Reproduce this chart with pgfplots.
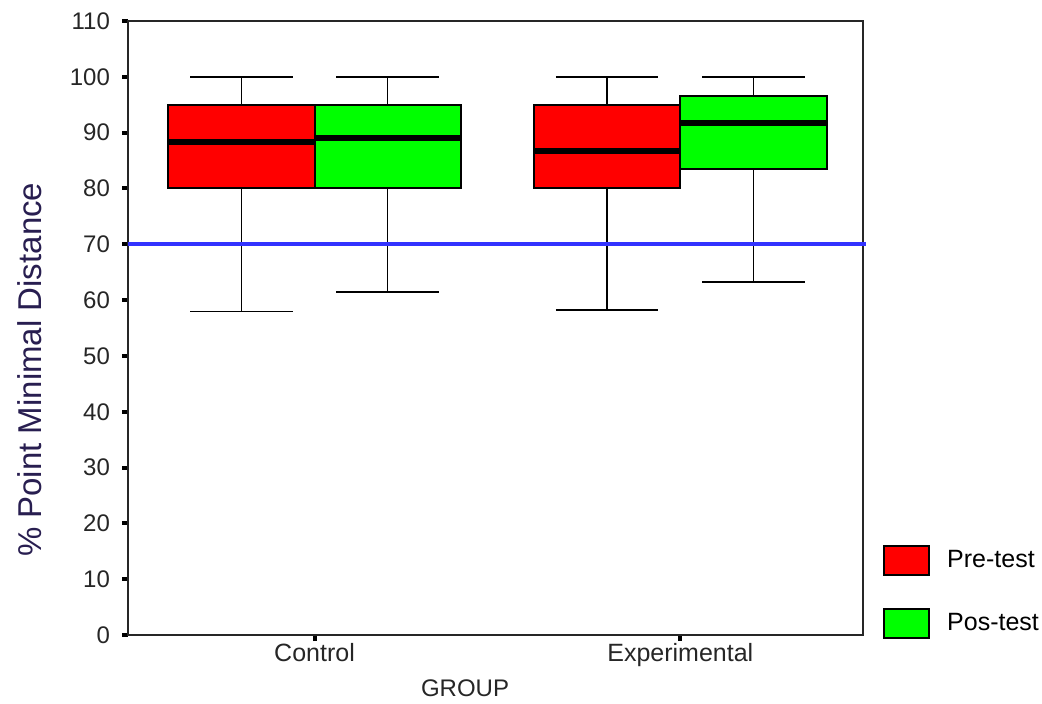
\documentclass[border=0pt]{standalone}
\usepackage{fontspec}
\setmainfont{Liberation Sans}
\usepackage{pgfplots}
\pgfplotsset{compat=1.18}
\definecolor{ylab}{RGB}{40,30,80}
\definecolor{refline}{RGB}{50,50,255}
\definecolor{boxred}{RGB}{255,0,0}
\definecolor{boxgreen}{RGB}{0,255,0}
\begin{document}
\begin{tikzpicture}
\begin{axis}[
  scale only axis, width=367.5pt, height=307pt,
  xmin=0.49, xmax=2.5, ymin=0, ymax=110,
  xtick={1,2}, xticklabels={Control,Experimental},
  ytick={0,10,...,110},
  tick align=outside, xtick pos=bottom, ytick pos=left,
  major tick length=3pt,
  major tick style={line width=2pt, black},
  axis line style={line width=1pt, black!85},
  clip=false,
  /pgf/number format/assume math mode=true,
  yticklabel style={font=\fontsize{12}{14}\selectfont, black!85, xshift=-2.5pt},
  xticklabel style={font=\fontsize{12.5}{14}\selectfont, black!85, yshift=2.5pt},
  ylabel={\% Point Minimal Distance},
  ylabel style={at={(axis description cs:-0.1333,0.432)}, anchor=center, font=\fontsize{16.5}{18}\selectfont, ylab},
  xlabel={GROUP},
  xlabel style={at={(axis description cs:0.4585,-0.0863)}, anchor=center, font=\fontsize{12}{14}\selectfont, black!85},
  whisk/.style={black, line width=0.8pt, forget plot},
  boxst/.style={draw=black, line width=1pt, forget plot},
  medst/.style={black, line width=3pt, forget plot},
  legend style={draw=none, fill=none, at={(axis description cs:1.0272,0.1466)}, anchor=north west,
    font=\fontsize{12.5}{14}\selectfont, row sep=16pt, column sep=8.5pt,
    inner sep=0pt, outer sep=0pt, nodes={inner sep=0pt, outer sep=0pt}},
  legend cell align=left,
]
% whiskers
\addplot[whisk] coordinates {(0.8,80) (0.8,58)};
\addplot[whisk] coordinates {(0.66,58) (0.94,58)};
\addplot[whisk] coordinates {(0.8,95) (0.8,100)};
\addplot[whisk] coordinates {(0.66,100) (0.94,100)};
\addplot[whisk] coordinates {(1.2,80) (1.2,61.5)};
\addplot[whisk] coordinates {(1.06,61.5) (1.34,61.5)};
\addplot[whisk] coordinates {(1.2,95) (1.2,100)};
\addplot[whisk] coordinates {(1.06,100) (1.34,100)};
\addplot[whisk] coordinates {(1.8,80) (1.8,58.2)};
\addplot[whisk] coordinates {(1.66,58.2) (1.94,58.2)};
\addplot[whisk] coordinates {(1.8,95) (1.8,100)};
\addplot[whisk] coordinates {(1.66,100) (1.94,100)};
\addplot[whisk] coordinates {(2.2,83.5) (2.2,63.3)};
\addplot[whisk] coordinates {(2.06,63.3) (2.34,63.3)};
\addplot[whisk] coordinates {(2.2,96.5) (2.2,100)};
\addplot[whisk] coordinates {(2.06,100) (2.34,100)};
% boxes
\addplot[boxst, fill=boxred] coordinates {(0.6,80) (1.0,80) (1.0,95) (0.6,95)} -- cycle;
\addplot[boxst, fill=boxgreen] coordinates {(1.0,80) (1.4,80) (1.4,95) (1.0,95)} -- cycle;
\addplot[boxst, fill=boxred] coordinates {(1.6,80) (2.0,80) (2.0,95) (1.6,95)} -- cycle;
\addplot[boxst, fill=boxgreen] coordinates {(2.0,83.5) (2.4,83.5) (2.4,96.5) (2.0,96.5)} -- cycle;
% medians
\addplot[medst] coordinates {(0.6,88.4) (1.0,88.4)};
\addplot[medst] coordinates {(1.0,89.1) (1.4,89.1)};
\addplot[medst] coordinates {(1.6,86.7) (2.0,86.7)};
\addplot[medst] coordinates {(2.0,91.8) (2.4,91.8)};
% reference line
\addplot[refline, line width=2pt, forget plot] coordinates {(0.49,70) (2.508,70)};
\addplot[draw=none, forget plot] coordinates {(0.140,-11.65) (2.989,113.76)};
\addlegendimage{legend image code/.code={\draw[fill=boxred,draw=black,line width=1pt] (0pt,-7.25pt) rectangle (22.5pt,7.25pt);}}
\addlegendentry{Pre-test}
\addlegendimage{legend image code/.code={\draw[fill=boxgreen,draw=black,line width=1pt] (0pt,-7.25pt) rectangle (22.5pt,7.25pt);}}
\addlegendentry{Pos-test}
\end{axis}
\end{tikzpicture}
\end{document}
